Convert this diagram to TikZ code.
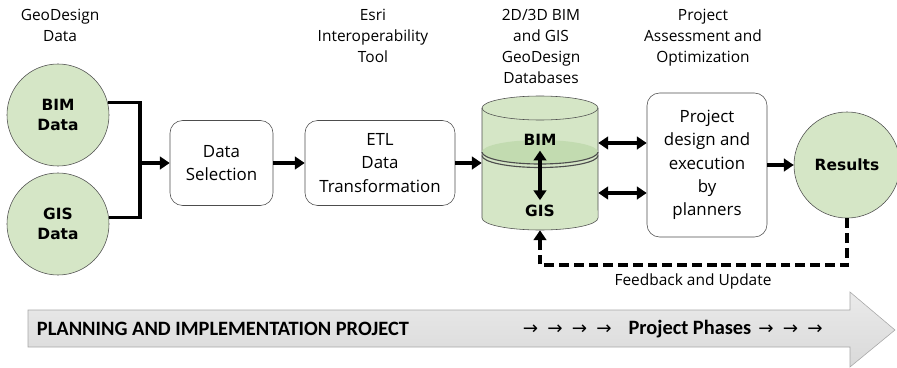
\documentclass[tikz,border=0pt]{standalone}
\usepackage{fontspec}
\setmainfont{Open Sans}
\newfontfamily\boldfont{DejaVu Sans}
\newfontfamily\barfont{Carlito}
\newfontfamily\arrfont{DejaVu Sans}
\usetikzlibrary{arrows.meta, positioning, calc}
\definecolor{db-green}{HTML}{D5E6C6}
\definecolor{band-green}{HTML}{C2DBB0}
\definecolor{edge-gray}{HTML}{4D4D4D}
\definecolor{bar-gray}{HTML}{D9D9D9}
\newcommand{\arr}{{\arrfont\mdseries\fontsize{13}{14}\selectfont →}}
\newcommand{\arrgap}{\hspace{6.5pt}}
\tikzset{
  x=0.025cm, y=0.025cm,
  stage-label/.style={font=\fontsize{11}{15}\selectfont, align=center, anchor=north},
  procbox/.style={draw=edge-gray, rounded corners=9pt, fill=white, align=center,
    font=\fontsize{12}{16.5}\selectfont},
  datacircle/.style={circle, draw=edge-gray, fill=db-green, align=center,
    minimum size=2.55cm, inner sep=0pt, font=\boldfont\bfseries\fontsize{11}{14}\selectfont},
  link/.style={draw=black, line width=2.4pt, -{Triangle[length=7pt,width=9pt]}},
  twoway/.style={link, {Triangle[length=7pt,width=9pt]}-{Triangle[length=7pt,width=9pt]}},
  feedback/.style={link, dash pattern=on 7pt off 3.5pt},
  db-text/.style={font=\boldfont\bfseries\fontsize{11}{14}\selectfont},
  bar-text/.style={anchor=west, font=\barfont\bfseries\fontsize{14.5}{17}\selectfont}
}
\begin{document}
\begin{tikzpicture}
  \useasboundingbox (0,0) rectangle (897,-368);

  % ---- Stage labels --------------------------------------------------------
  \node[stage-label] (GeoLbl) at (60,-4) {GeoDesign\\Data};
  \node[stage-label] (EsriLbl) at (373,-4) {Esri\\Interoperability\\Tool};
  \node[stage-label] (DBLbl) at (541,-4) {2D/3D BIM\\and GIS\\GeoDesign\\Databases};
  \node[stage-label] (AssessLbl) at (703,-4) {Project\\Assessment and\\Optimization};

  % ---- Input data ----------------------------------------------------------
  \node[datacircle] (BIM) at (58,-115) {BIM\\Data};
  \node[datacircle] (GIS) at (58,-224) {GIS\\Data};
  \coordinate (Merge) at (140,-163);

  % ---- Processing boxes ----------------------------------------------------
  \node[procbox, minimum width=2.575cm, minimum height=2.125cm] (Sel) at (221.5,-163) {Data\\Selection};
  \node[procbox, minimum width=3.75cm, minimum height=2.125cm] (ETL) at (380,-163) {ETL\\Data\\Transformation};
  \node[procbox, minimum width=3cm, minimum height=3.6cm] (Design) at (707,-165)
        {Project\\design and\\execution\\by\\planners};
  \node[datacircle, minimum size=2.65cm] (Results) at (847,-165) {Results};

  % ---- Database cylinder ---------------------------------------------------
  \node[minimum width=2.9cm, minimum height=3.325cm, inner sep=0pt] (DB) at (540,-163.5) {};
  \filldraw[draw=edge-gray, fill=db-green] (482,-108)
        -- (482,-218) arc[start angle=180, end angle=360, x radius=1.45cm, y radius=0.3cm]
        -- (598,-108) arc[start angle=0, end angle=180, x radius=1.45cm, y radius=0.3cm];
  \draw[draw=edge-gray] (598,-108) arc[start angle=360, end angle=180, x radius=1.45cm, y radius=0.3cm];
  \fill[band-green] (540,-152) ellipse[x radius=1.45cm, y radius=0.3cm];
  \draw[draw=edge-gray, line width=0.8pt] (482,-152) arc[start angle=180, end angle=360, x radius=1.45cm, y radius=0.3cm];
  \draw[draw=edge-gray, line width=0.8pt] (482,-155.5) arc[start angle=180, end angle=360, x radius=1.45cm, y radius=0.3cm];
  \node[db-text] (BIMlbl) at (540,-140) {BIM};
  \node[db-text] (GISlbl) at (540,-211) {GIS};
  \draw[twoway] (BIMlbl.south) -- (GISlbl.north);

  % ---- Connectors ----------------------------------------------------------
  \draw[line width=2.4pt] (BIM.14) -| (Merge);
  \draw[line width=2.4pt] (GIS.7) -| (Merge);
  \draw[link] (Merge) -- (Sel.west);
  \draw[link] (Sel.east) -- (ETL.west);
  \draw[link] (ETL.east) -- (DB.west |- ETL.east);
  \draw[twoway] (DB.east |- 0,-143) -- (Design.west |- 0,-143);
  \draw[twoway] (DB.east |- 0,-193) -- (Design.west |- 0,-193);
  \draw[link] (Design.east) -- (Results.west);

  % ---- Feedback loop -------------------------------------------------------
  \draw[feedback] (Results.south) -- (847,-265) -| (DB.south);
  \node[font=\fontsize{11}{14}\selectfont] (FbLbl) at (693,-281) {Feedback and Update};

  % ---- Project timeline arrow ----------------------------------------------
  \shade[top color=bar-gray!55, bottom color=bar-gray, draw=gray!70]
        (28,-310) -- (850,-310) -- (850,-292) -- (895,-330) -- (850,-367)
        -- (850,-347) -- (28,-347) -- cycle;
  \node[bar-text] (PlanLbl) at (32,-329) {PLANNING AND IMPLEMENTATION PROJECT};
  \node[bar-text] (PhaseLbl) at (518,-329)
        {\arr\arrgap\arr\arrgap\arr\arrgap\arr\hspace{12pt}Project Phases\hspace{5pt}\arr\arrgap\arr\arrgap\arr};

\end{tikzpicture}
\end{document}
